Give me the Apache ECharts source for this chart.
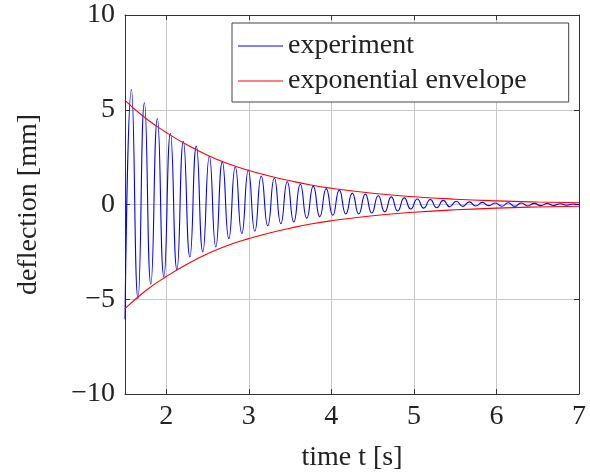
<!DOCTYPE html>
<html>
<head>
<meta charset="utf-8">
<script src="https://cdn.jsdelivr.net/npm/echarts@6/dist/echarts.min.js"></script>
<style>html,body{margin:0;padding:0;background:#fff}#c{width:590px;height:474px}</style>
</head>
<body>
<div id="c"></div>
<script>
// experiment: times and values of the extrema
const T_EXP = [1.500,1.578,1.657,1.735,1.813,1.892,1.971,2.050,2.129,2.207,2.286,2.364,2.443,2.522,2.600,2.679,2.758,2.836,2.915,2.994,3.073,3.151,3.230,3.309,3.388,3.466,3.545,3.624,3.702,3.781,3.860,3.938,4.017,4.096,4.175,4.253,4.332,4.411,4.490,4.568,4.647,4.726,4.804,4.883,4.962,5.041,5.119,5.198,5.277,5.356,5.434,5.513,5.592,5.671,5.749,5.828,5.907,5.986,6.064,6.143,6.222,6.300,6.379,6.458,6.537,6.615,6.694,6.773,6.852,6.930,7.000];
const V_EXP = [-6.05,6.07,-4.97,5.37,-4.21,4.54,-3.82,3.75,-3.44,3.34,-2.77,3.08,-2.50,2.55,-2.24,2.25,-1.80,1.99,-1.53,1.81,-1.41,1.50,-1.12,1.40,-1.01,1.20,-0.92,1.07,-0.72,0.97,-0.65,0.84,-0.57,0.76,-0.50,0.60,-0.50,0.55,-0.45,0.46,-0.39,0.40,-0.34,0.35,-0.24,0.29,-0.19,0.26,-0.17,0.22,-0.12,0.17,-0.10,0.14,-0.08,0.11,-0.06,0.08,-0.09,0.09,-0.10,0.08,-0.08,0.06,-0.06,0.05,-0.05,0.04,-0.04,0.03,-0.01];
// exponential envelope
const T_ENV = [1.5,1.75,2.0,2.25,2.5,2.75,3.0,3.25,3.5,3.75,4.0,4.5,5.0,5.5,6.0,6.5,7.0];
const V_ENV_UP = [5.5,4.55,3.8,3.15,2.6,2.15,1.8,1.5,1.25,1.03,0.86,0.59,0.41,0.28,0.19,0.13,0.09];
const V_ENV_LO = [-5.5,-4.55,-3.8,-3.15,-2.6,-2.15,-1.8,-1.5,-1.25,-1.03,-0.86,-0.59,-0.41,-0.28,-0.19,-0.13,-0.09];
const X_TICKS = [2,3,4,5,6,7];

const FONT = 'Liberation Serif';
const FS = 28;
const AX = '#333';

const expData = T_EXP.map((t,i)=>[t, V_EXP[i]]);
const envUp = T_ENV.map((t,i)=>[t, V_ENV_UP[i]]);
const envLo = T_ENV.map((t,i)=>[t, V_ENV_LO[i]]);

const fmtY = v => v < 0 ? '\u2212' + Math.abs(v) : String(v);

const chart = echarts.init(document.getElementById('c'), null, {renderer:'canvas'});
chart.setOption({
  animation: false,
  backgroundColor: '#fff',
  grid: {left:125, right:11, top:15, bottom:80, show:false, containLabel:false, outerBoundsMode:'none'},
  xAxis: [{
    type:'value', min:1.5, max:7,
    name:'time t [s]', nameLocation:'middle', nameGap:50,
    nameTextStyle:{fontFamily:FONT, fontSize:FS, color:'#222'},
    axisLine:{show:true, onZero:false, lineStyle:{color:AX, width:1}},
    axisTick:{show:true, inside:true, length:5, customValues:X_TICKS, lineStyle:{color:AX}},
    axisLabel:{customValues:X_TICKS, fontFamily:FONT, fontSize:FS, color:'#222', margin:9},
    splitLine:{show:true, lineStyle:{color:'#c8c8c8', width:1}}
  },{
    type:'value', min:1.5, max:7, position:'top',
    axisLine:{show:true, onZero:false, lineStyle:{color:AX, width:1}},
    axisTick:{show:true, inside:true, length:5, customValues:X_TICKS, lineStyle:{color:AX}},
    axisLabel:{show:false}, splitLine:{show:false}
  }],
  yAxis: [{
    type:'value', min:-10, max:10, interval:5,
    name:'deflection [mm]', nameLocation:'middle', nameGap:82, nameRotate:90,
    nameTextStyle:{fontFamily:FONT, fontSize:FS, color:'#222'},
    axisLine:{show:true, onZero:false, lineStyle:{color:AX, width:1}},
    axisTick:{show:true, inside:true, length:5, lineStyle:{color:AX}},
    axisLabel:{fontFamily:FONT, fontSize:FS, color:'#222', margin:10, formatter:fmtY},
    splitLine:{show:true, lineStyle:{color:'#c8c8c8', width:1}}
  },{
    type:'value', min:-10, max:10, interval:5, position:'right',
    axisLine:{show:true, onZero:false, lineStyle:{color:AX, width:1}},
    axisTick:{show:true, inside:true, length:5, lineStyle:{color:AX}},
    axisLabel:{show:false}, splitLine:{show:false}
  }],
  legend: {
    data:[{name:'experiment', icon:'rect'},{name:'exponential envelope', icon:'rect'}],
    orient:'vertical', left:232, top:23,
    backgroundColor:'#fff', borderColor:'#444', borderWidth:1,
    padding:[8,42,6,6], itemGap:5, itemWidth:45, itemHeight:1.2,
    textStyle:{fontFamily:FONT, fontSize:FS, color:'#222', lineHeight:30}
  },
  series: [{
    name:'experiment', type:'line', data:expData, symbol:'none', smooth:0.55,
    lineStyle:{color:'#0000ff', width:1.1}, itemStyle:{color:'#0000ff'}, z:2
  },{
    name:'exponential envelope', type:'line', data:envUp, symbol:'none', smooth:true,
    lineStyle:{color:'#ff0000', width:1.1}, itemStyle:{color:'#ff0000'}, z:3
  },{
    name:'exponential envelope', type:'line', data:envLo, symbol:'none', smooth:true,
    lineStyle:{color:'#ff0000', width:1.1}, itemStyle:{color:'#ff0000'}, z:3
  }]
});
</script>
</body>
</html>
